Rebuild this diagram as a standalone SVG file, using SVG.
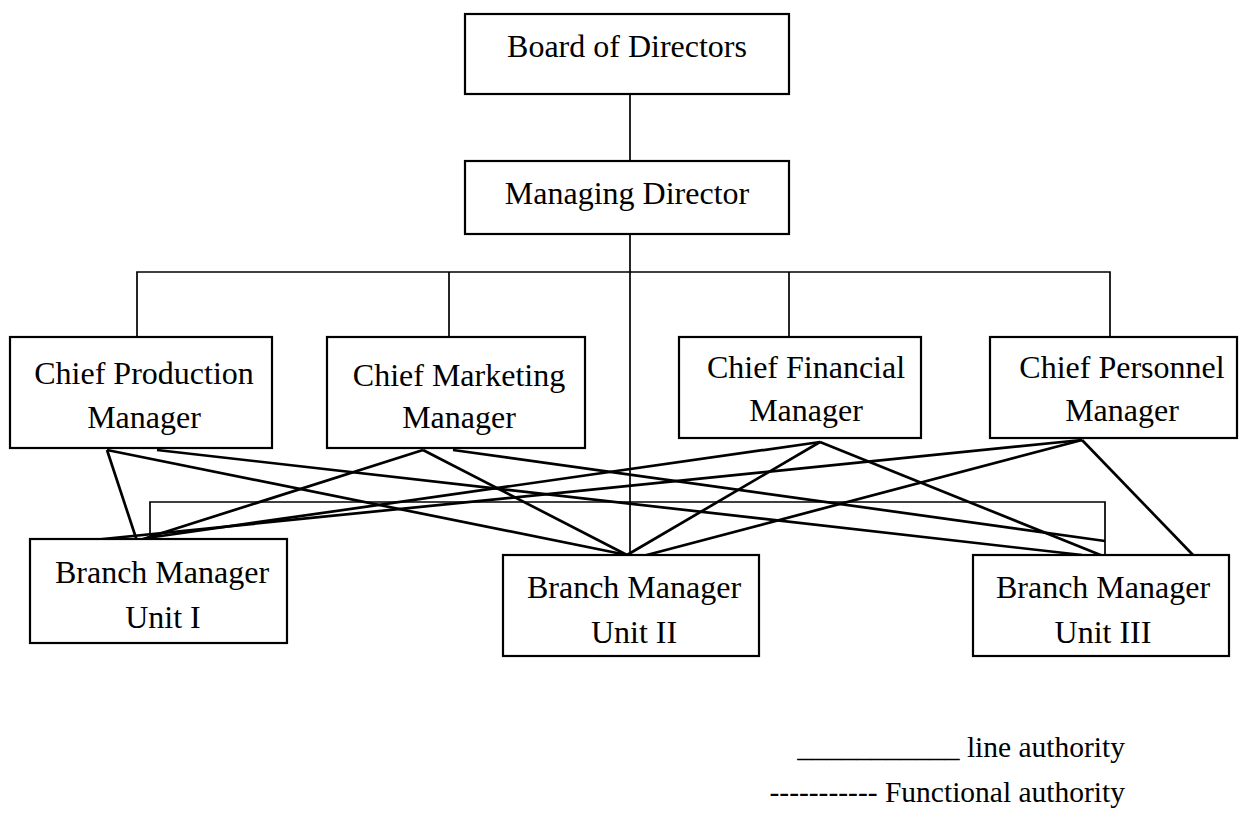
<svg xmlns="http://www.w3.org/2000/svg" width="1246" height="814" viewBox="0 0 1246 814">
<style>
.box{fill:#fff;stroke:#000;stroke-width:2.2}
.t{font-family:"Liberation Serif","Times New Roman",serif;font-size:32px;fill:#000;text-anchor:middle}
.lg{font-family:"Liberation Serif","Times New Roman",serif;font-size:29.5px;fill:#000;text-anchor:end}
.tree{fill:none;stroke:#000;stroke-width:1.7}
.fn{fill:none;stroke:#000;stroke-width:2.7}
</style>
<rect width="1246" height="814" fill="#fff"/>
<g id="connectors">
<line class="tree" x1="630" y1="94" x2="630" y2="161"/>
<line class="tree" x1="630" y1="234" x2="630" y2="569"/>
<polyline class="tree" points="137,337 137,272 1110,272 1110,337"/>
<line class="tree" x1="449" y1="272" x2="449" y2="337"/>
<line class="tree" x1="789" y1="272" x2="789" y2="337"/>
<polyline class="tree" points="150,538 150,502 1105,502 1105,555"/>
<line class="fn" x1="107" y1="450" x2="137" y2="541"/>
<line class="fn" x1="107" y1="450" x2="627" y2="555"/>
<line class="fn" x1="157" y1="450" x2="1082" y2="555"/>
<line class="fn" x1="423" y1="450" x2="140" y2="540"/>
<line class="fn" x1="423" y1="450" x2="627" y2="555"/>
<line class="fn" x1="453" y1="450" x2="1105" y2="541"/>
<line class="fn" x1="820" y1="442" x2="147" y2="538"/>
<line class="fn" x1="820" y1="442" x2="627" y2="555"/>
<line class="fn" x1="820" y1="442" x2="1103" y2="556"/>
<line class="fn" x1="1082" y1="440" x2="93" y2="540"/>
<line class="fn" x1="1082" y1="440" x2="643" y2="556"/>
<line class="fn" x1="1082" y1="440" x2="1193" y2="555"/>
</g>
<g id="board"><rect class="box" x="465" y="14" width="324" height="80"/><text class="t" x="627" y="57">Board of Directors</text></g>
<g id="md"><rect class="box" x="465" y="161" width="324" height="73"/><text class="t" x="627" y="204">Managing Director</text></g>
<g id="cpm"><rect class="box" x="10" y="337" width="262" height="111"/><text class="t" x="144" y="384">Chief Production</text><text class="t" x="144" y="428">Manager</text></g>
<g id="cmm"><rect class="box" x="327" y="337" width="258" height="111"/><text class="t" x="459" y="386">Chief Marketing</text><text class="t" x="459" y="428">Manager</text></g>
<g id="cfm"><rect class="box" x="679" y="337" width="242" height="101"/><text class="t" x="806" y="378">Chief Financial</text><text class="t" x="806" y="421">Manager</text></g>
<g id="cper"><rect class="box" x="990" y="337" width="247" height="101"/><text class="t" x="1122" y="378">Chief Personnel</text><text class="t" x="1122" y="421">Manager</text></g>
<g id="bm1"><rect class="box" x="30" y="539" width="257" height="104"/><text class="t" x="162" y="583">Branch Manager</text><text class="t" x="163" y="628">Unit I</text></g>
<g id="bm2"><rect class="box" x="503" y="555" width="256" height="101"/><text class="t" x="634" y="598">Branch Manager</text><text class="t" x="634" y="643">Unit II</text></g>
<g id="bm3"><rect class="box" x="973" y="555" width="256" height="101"/><text class="t" x="1103" y="598">Branch Manager</text><text class="t" x="1103" y="643">Unit III</text></g>
<g id="legend">
<text class="lg" x="1125" y="757">___________ line authority</text>
<text class="lg" x="1125" y="802">----------- Functional authority</text>
</g>
</svg>
